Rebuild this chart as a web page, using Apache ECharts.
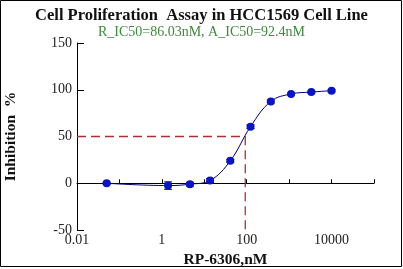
<!DOCTYPE html>
<html><head><meta charset="utf-8">
<script src="https://cdn.jsdelivr.net/npm/echarts@6/dist/echarts.min.js"></script>
<style>html,body{margin:0;padding:0;background:#fff}#c{width:403px;height:269px}</style>
</head><body><div id="c"></div>
<script>
// Data
const concentrations = [0.05, 1.4, 4.6, 13.7, 41, 123, 370, 1111, 3333, 10000];
const inhibition = [0, -2.5, -1, 3, 24, 60.5, 87.5, 95.5, 97.5, 99];
const errors = [1, 4, 2, 2, 1.5, 2, 1.5, 1, 1, 1];
const ic50Guide = [[0.01, 50], [92.4, 50], [92.4, -50]];
const xTickLabels = ['0.01', '1', '100', '10000'];
const yTicks = [-50, 0, 50, 100, 150];
const titleText = 'Cell Proliferation  Assay in HCC1569 Cell Line';
const subText = 'R_IC50=86.03nM, A_IC50=92.4nM';

const serif = '"Liberation Serif", "DejaVu Serif", serif';
const points = concentrations.map((c, i) => [c, inhibition[i]]);
const errData = concentrations.map((c, i) => [c, inhibition[i], errors[i]]);

const chart = echarts.init(document.getElementById('c'));
chart.setOption({
  animation: false,
  backgroundColor: '#fff',
  title: {
    text: titleText, subtext: subText, left: 'center', top: 2, itemGap: 1,
    textStyle: {fontFamily: serif, fontWeight: 'bold', fontSize: 16.5, color: '#111'},
    subtextStyle: {fontFamily: serif, fontSize: 14, color: '#3d8a3d'}
  },
  grid: {left: 77, right: 29, top: 43, bottom: 39, containLabel: false, outerBoundsMode: 'none'},
  xAxis: {
    type: 'log', logBase: 10, min: 0.01, max: 100000, splitNumber: 7,
    name: 'RP-6306,nM', nameLocation: 'middle', nameGap: 20,
    nameTextStyle: {fontFamily: serif, fontWeight: 'bold', fontSize: 15.5, color: '#111'},
    axisLine: {lineStyle: {color: '#000', width: 1}},
    axisTick: {inside: true, length: 4, lineStyle: {color: '#000'}},
    splitLine: {show: false},
    axisLabel: {
      fontFamily: serif, fontSize: 14, color: '#222', margin: 3,
      formatter: v => {
        const e = Math.round(Math.log10(v));
        if (e % 2 !== 0) return '';
        const s = xTickLabels.find(t => Math.abs(Math.log10(parseFloat(t)) - e) < 1e-6);
        return s || '';
      }
    }
  },
  yAxis: {
    type: 'value', min: yTicks[0], max: yTicks[yTicks.length - 1], interval: 50,
    name: 'Inhibition  %', nameLocation: 'middle', nameGap: 58,
    nameTextStyle: {fontFamily: serif, fontWeight: 'bold', fontSize: 15.5, color: '#111'},
    axisLine: {show: true, lineStyle: {color: '#000', width: 1}},
    axisTick: {show: true, inside: true, length: 7, lineStyle: {color: '#000'}},
    splitLine: {show: false},
    axisLabel: {fontFamily: serif, fontSize: 14, color: '#222', margin: 5}
  },
  series: [
    {
      type: 'line', data: ic50Guide, symbol: 'none', silent: true,
      lineStyle: {color: '#a83232', width: 1.3, type: [9, 5]}, z: 1
    },
    {
      type: 'line', data: points, smooth: 0.4, symbol: 'circle', symbolSize: 8,
      itemStyle: {color: '#0a14c0'}, lineStyle: {color: '#000070', width: 1}, z: 3
    },
    {
      type: 'custom', data: errData, z: 2,
      renderItem: (params, api) => {
        const x = api.value(0), y = api.value(1), e = api.value(2);
        const top = api.coord([x, y + e]);
        const bot = api.coord([x, y - e]);
        const w = 4;
        const style = {stroke: '#000070', lineWidth: 1};
        return {type: 'group', children: [
          {type: 'line', shape: {x1: top[0], y1: top[1], x2: bot[0], y2: bot[1]}, style},
          {type: 'line', shape: {x1: top[0] - w, y1: top[1], x2: top[0] + w, y2: top[1]}, style},
          {type: 'line', shape: {x1: bot[0] - w, y1: bot[1], x2: bot[0] + w, y2: bot[1]}, style}
        ]};
      }
    }
  ],
  graphic: [{
    type: 'rect', shape: {x: 0.5, y: 0.5, width: 401, height: 266},
    style: {fill: 'none', stroke: '#000', lineWidth: 1}, silent: true
  }]
});
</script></body></html>
